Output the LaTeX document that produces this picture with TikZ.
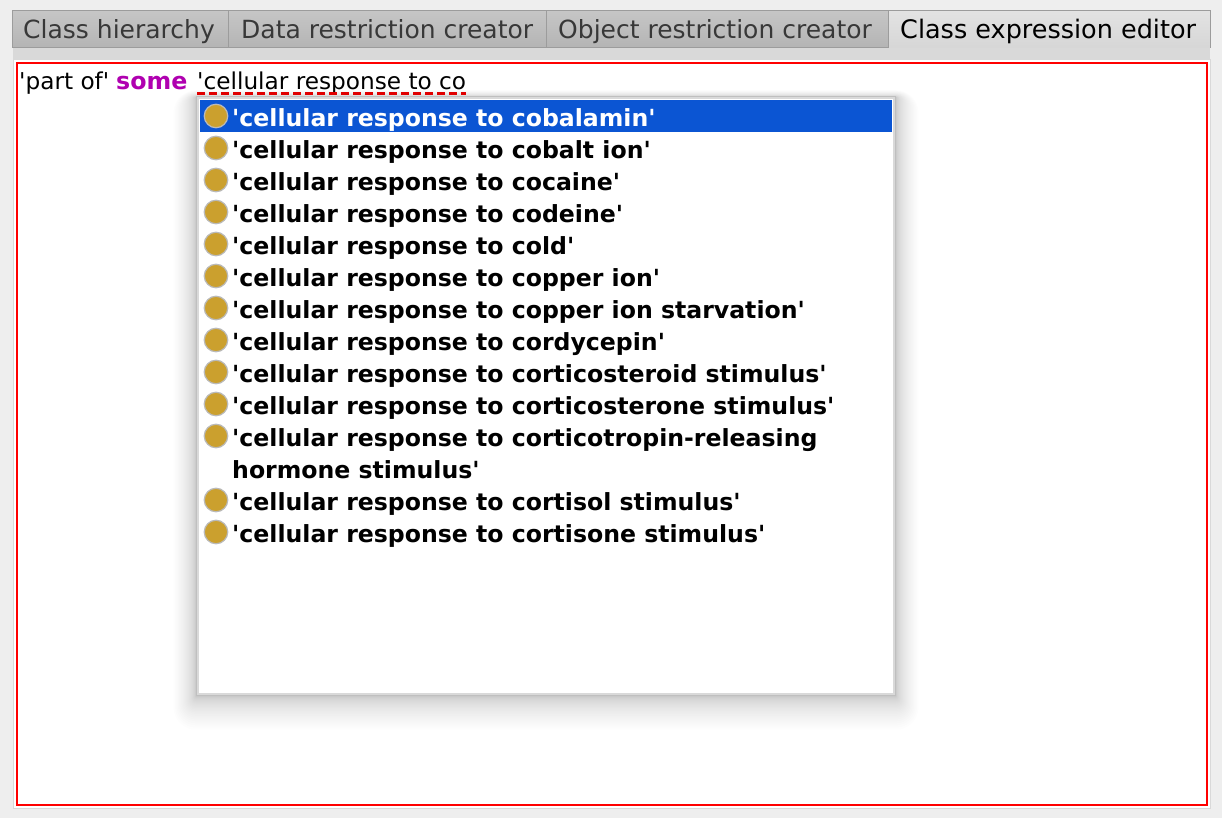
\documentclass[tikz,border=0pt]{standalone}
\usepackage{fontspec}
\newfontfamily\uifont{DejaVu Sans}
\definecolor{windowgray}{HTML}{EEEEEE}
\definecolor{bandgray}{HTML}{D9D9D9}
\definecolor{tabedge}{HTML}{9C9C9C}
\definecolor{tabtop}{HTML}{C6C6C6}
\definecolor{tabbottom}{HTML}{B4B4B4}
\definecolor{selectblue}{HTML}{0B55D3}
\definecolor{bulletgold}{HTML}{CBA02E}
\definecolor{keywordpurple}{HTML}{B000B0}

\begin{document}
\begin{tikzpicture}[
    x=1pt, y=-1pt,
    tabbox/.style={draw=tabedge, line width=1pt, top color=tabtop, bottom color=tabbottom},
    activetab/.style={top color=black!11, bottom color=black!16},
    tablabel/.style={anchor=base west, inner sep=0pt, text=black!78, font=\uifont\fontsize{25}{28}\selectfont},
    editorlabel/.style={anchor=base west, inner sep=0pt, font=\uifont\fontsize{23.2}{26}\selectfont},
    itemlabel/.style={anchor=base west, inner sep=0pt, font=\uifont\fontsize{23.6}{32}\selectfont\bfseries},
    bullet/.style={circle, fill=bulletgold, draw=black!27, line width=1.2pt, minimum size=23.5pt, inner sep=0pt}
]

% Window and bounding box
\fill[windowgray] (0,0) rectangle (1222,818);
\useasboundingbox (0,0) rectangle (1222,818);
\fill[bandgray] (13,48) rectangle (1210,59);

% Tabs
\draw[tabbox] (12.5,10.5) rectangle (228,48);
\draw[tabbox] (228,10.5) rectangle (546,48);
\draw[tabbox] (546,10.5) rectangle (888,48);
\path[activetab] (888,10.5) rectangle (1210,48);
\draw[tabedge, line width=1pt] (888,48) -- (888,10.5) -- (1210,10.5) -- (1210,48);
\node[tablabel] (tabhierarchy) at (23,39) {Class hierarchy};
\node[tablabel] (tabdata) at (241,39) {Data restriction creator};
\node[tablabel] (tabobject) at (558,39) {Object restriction creator};
\node[tablabel, text=black, font=\uifont\fontsize{25.5}{28}\selectfont] (tabexpression) at (900,39) {Class expression editor};

% Editor panel
\draw[draw=bandgray, fill=white, line width=1pt] (13.5,59.5) rectangle (1210,808.5);
\draw[red, line width=2pt] (17,63) rectangle (1207,805);

% Popup shadow
\foreach \d [evaluate=\d as \e using 0.025*\d*\d] in {1,2,...,30}
    \fill[black, opacity=0.009, rounded corners=\e pt] (196-\e,97-0.3*\e) rectangle (896+\e,696+1.5*\e);

% Typed expression
\node[editorlabel] (typedpart) at (19,90) {'part of'};
\node[editorlabel, text=keywordpurple, font=\uifont\fontsize{23.7}{26}\selectfont\bfseries] (typedsome) at (116,90) {some};
\node[editorlabel] (typedrest) at (197,90) {'cellular response to co};
\draw[red!88!black, line width=2.5pt, dash pattern=on 8pt off 4pt] (197,93.5) -- (466,93.5);

% Popup
\draw[draw=black!25, line width=1pt, fill=white] (196.5,96.5) rectangle (895.5,695.5);
\draw[draw=black!15, line width=2pt] (198,98) rectangle (894,694);
\fill[selectblue] (200,100) rectangle (892,132);

% Completion list
\node[bullet] (dot1) at (216,116) {};
\node[bullet] (dot2) at (216,148) {};
\node[bullet] (dot3) at (216,180) {};
\node[bullet] (dot4) at (216,212) {};
\node[bullet] (dot5) at (216,244) {};
\node[bullet] (dot6) at (216,276) {};
\node[bullet] (dot7) at (216,308) {};
\node[bullet] (dot8) at (216,340) {};
\node[bullet] (dot9) at (216,372) {};
\node[bullet] (dot10) at (216,404) {};
\node[bullet] (dot11) at (216,436) {};
\node[bullet] (dot12) at (216,500) {};
\node[bullet] (dot13) at (216,532) {};

\node[itemlabel, text=white] (item1) at (232,126.5) {'cellular response to cobalamin'};
\node[itemlabel] (item2) at (232,158.5) {'cellular response to cobalt ion'};
\node[itemlabel] (item3) at (232,190.5) {'cellular response to cocaine'};
\node[itemlabel] (item4) at (232,222.5) {'cellular response to codeine'};
\node[itemlabel] (item5) at (232,254.5) {'cellular response to cold'};
\node[itemlabel] (item6) at (232,286.5) {'cellular response to copper ion'};
\node[itemlabel] (item7) at (232,318.5) {'cellular response to copper ion starvation'};
\node[itemlabel] (item8) at (232,350.5) {'cellular response to cordycepin'};
\node[itemlabel] (item9) at (232,382.5) {'cellular response to corticosteroid stimulus'};
\node[itemlabel] (item10) at (232,414.5) {'cellular response to corticosterone stimulus'};
\node[itemlabel] (item11) at (232,446.5) {'cellular response to corticotropin-releasing};
\node[itemlabel] (item11b) at (232,478.5) {hormone stimulus'};
\node[itemlabel] (item12) at (232,510.5) {'cellular response to cortisol stimulus'};
\node[itemlabel] (item13) at (232,542.5) {'cellular response to cortisone stimulus'};

\end{tikzpicture}
\end{document}
